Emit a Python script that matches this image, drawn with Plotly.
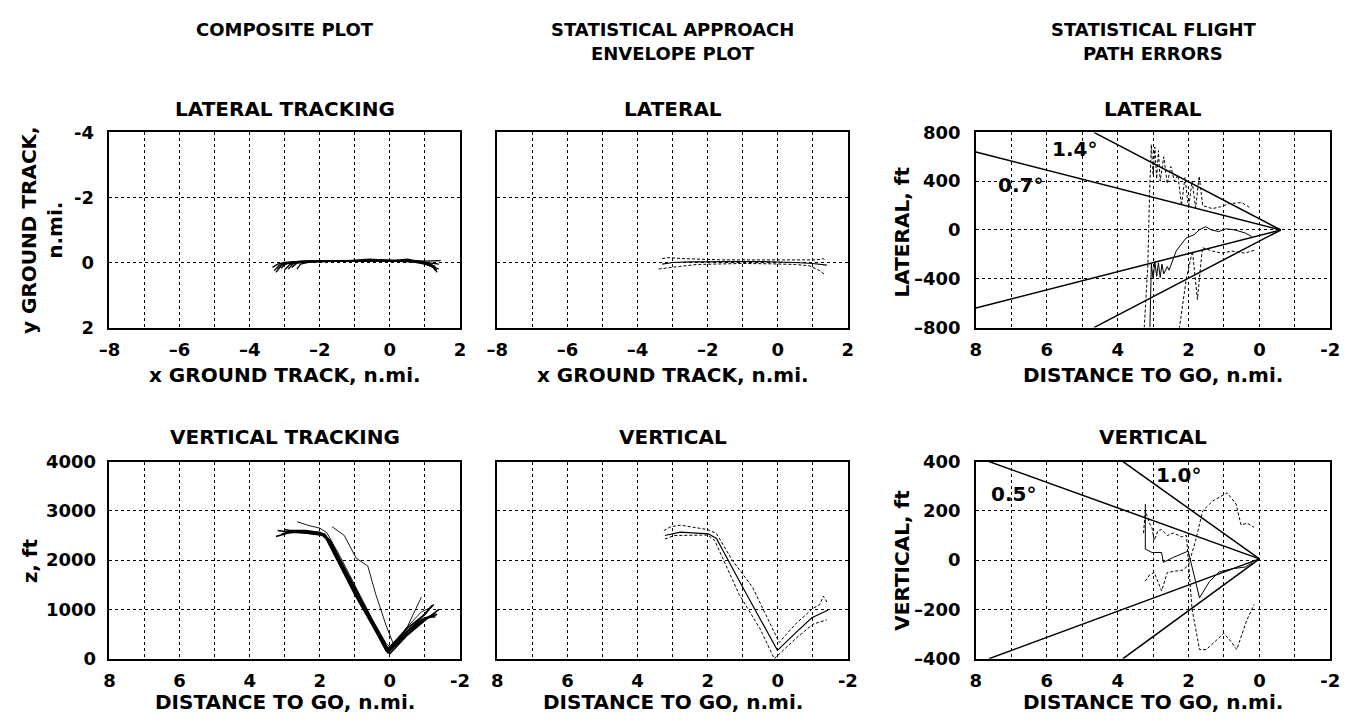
import plotly.graph_objects as go

W, H = 1361, 726

# ---------------- DATA ----------------
# Composite lateral tracking runs (x ground track n.mi., y ground track n.mi.)
lat_run1_x = [-3.35, -3.2, -3.0, -2.7, -2.2, -1.5, -0.8, 0.0, 0.6, 1.0, 1.3]
lat_run1_y = [0.15, 0.05, 0.0, -0.03, -0.04, -0.05, -0.05, -0.04, -0.03, 0.05, 0.15]
lat_run2_x = [-3.3, -3.15, -2.9, -2.5, -2.0, -1.2, -0.6, 0.3, 0.8, 1.1, 1.4]
lat_run2_y = [0.25, 0.08, 0.02, -0.02, -0.03, -0.05, -0.1, -0.05, -0.02, 0.08, 0.2]
lat_run3_x = [-3.2, -3.05, -2.8, -2.4, -1.8, -1.0, -0.2, 0.4, 0.9, 1.2, 1.35]
lat_run3_y = [0.2, 0.04, -0.02, -0.04, -0.04, -0.05, -0.04, -0.04, 0.0, 0.1, 0.3]
lat_run4_x = [-3.1, -2.95, -2.7, -2.3, -1.6, -0.9, 0.0, 0.5, 0.9, 1.2, 1.4]
lat_run4_y = [0.18, 0.02, -0.03, -0.05, -0.05, -0.06, -0.05, -0.1, -0.02, 0.03, 0.05]
lat_run5_x = [-3.0, -2.85, -2.6, -2.2, -1.5, -0.8, 0.1, 0.6, 1.0, 1.25, 1.45]
lat_run5_y = [0.22, 0.06, 0.0, -0.03, -0.04, -0.05, -0.05, -0.06, -0.04, -0.05, -0.06]
lat_run6_x = [-2.9, -2.75, -2.5, -2.1, -1.4, -0.7, 0.2, 0.7, 1.0, 1.3]
lat_run6_y = [0.2, 0.03, -0.02, -0.04, -0.05, -0.05, -0.04, -0.03, 0.02, 0.18]
lat_run7_x = [-2.8, -2.65, -2.4, -2.0, -1.3, -0.6, 0.2, 0.7, 1.1, 1.3]
lat_run7_y = [0.15, 0.02, -0.03, -0.04, -0.05, -0.05, -0.06, -0.04, 0.05, 0.12]
lat_run8_x = [-2.65, -2.55, -2.3, -1.9, -1.2, -0.5, 0.3, 0.8, 1.1, 1.35]
lat_run8_y = [0.2, 0.05, -0.01, -0.03, -0.04, -0.06, -0.05, -0.02, 0.07, 0.22]
lat_run9_x = [-3.25, -3.1, -2.9, -2.6, -2.0, -1.0, -0.3, 0.5, 0.95, 1.2, 1.3]
lat_run9_y = [0.3, 0.1, 0.03, -0.01, -0.04, -0.06, -0.08, -0.06, -0.03, 0.06, 0.25]

# Composite vertical tracking runs (distance to go n.mi., z ft)
vert_run1_x = [3.2, 3.0, 2.6, 2.2, 1.95, 1.8, 1.0, 0.1, -0.4, -0.9, -1.3]
vert_run1_z = [2600, 2580, 2560, 2540, 2520, 2420, 1350, 150, 450, 780, 920]
vert_run2_x = [3.1, 2.8, 2.4, 2.0, 1.85, 1.0, 0.05, -0.5, -1.0, -1.35]
vert_run2_z = [2520, 2600, 2570, 2550, 2480, 1300, 120, 500, 800, 900]
vert_run3_x = [3.0, 2.7, 2.3, 1.95, 1.75, 0.9, 0.0, -0.5, -1.0, -1.4]
vert_run3_z = [2620, 2580, 2550, 2530, 2430, 1200, 100, 480, 780, 1000]
vert_run4_x = [2.9, 2.5, 2.1, 1.9, 1.7, 0.8, 0.05, -0.5, -1.0, -1.2]
vert_run4_z = [2560, 2560, 2520, 2500, 2400, 1150, 200, 620, 900, 1080]
vert_run5_x = [2.8, 2.4, 2.0, 1.85, 1.6, 0.9, 0.1, -0.5, -1.0, -1.3]
vert_run5_z = [2600, 2600, 2560, 2520, 2250, 1300, 180, 560, 830, 850]
vert_run6_x = [2.65, 2.3, 2.0, 1.8, 1.4, 1.0, 0.5, 0.1, -0.05, -0.5, -0.9]
vert_run6_z = [2780, 2700, 2650, 2560, 2050, 1500, 800, 300, 220, 650, 1250]
vert_run7_x = [1.65, 1.3, 0.96, 0.63, 0.4, 0.11, -0.1, -0.5, -0.9, -1.2]
vert_run7_z = [2680, 2500, 2040, 1880, 1300, 680, 300, 650, 950, 1050]
vert_run8_x = [3.25, 2.9, 2.5, 2.0, 1.8, 1.2, 0.6, 0.05, -0.4, -0.8, -1.25]
vert_run8_z = [2480, 2550, 2590, 2560, 2460, 1700, 900, 130, 500, 760, 1100]

# Statistical approach envelope - lateral
env_lat_mean_x = [-3.3, -3.0, -2.5, -2.0, -1.5, -1.0, -0.5, 0.0, 0.5, 1.0, 1.4]
env_lat_mean_y = [0.05, 0.0, -0.02, -0.03, -0.03, -0.03, -0.03, -0.02, 0.0, 0.03, 0.08]
env_lat_up_x = [-3.3, -3.1, -2.7, -2.2, -1.6, -1.0, -0.4, 0.2, 0.8, 1.1, 1.3, 1.35]
env_lat_up_y = [-0.12, -0.15, -0.12, -0.1, -0.08, -0.08, -0.08, -0.08, -0.1, -0.08, -0.12, -0.05]
env_lat_lo_x = [-3.4, -3.2, -2.8, -2.3, -1.8, -1.0, -0.2, 0.5, 0.9, 1.2, 1.35]
env_lat_lo_y = [0.2, 0.18, 0.12, 0.06, 0.04, 0.03, 0.04, 0.06, 0.1, 0.25, 0.38]

# Statistical approach envelope - vertical
env_v_mean_x = [3.22, 2.78, 1.98, 1.75, 1.0, 0.01, -0.5, -0.97, -1.44]
env_v_mean_z = [2500, 2570, 2535, 2440, 1450, 170, 520, 830, 990]
env_v_up_x = [3.25, 3.05, 2.78, 2.0, 1.75, 1.3, 0.72, 0.2, -0.04, -0.5, -1.0, -1.2, -1.3, -1.4]
env_v_up_z = [2600, 2680, 2710, 2620, 2540, 2000, 1450, 700, 330, 700, 1020, 1100, 1270, 1150]
env_v_lo_x = [3.22, 2.95, 2.0, 1.8, 1.1, 0.5, 0.1, -0.5, -1.0, -1.4]
env_v_lo_z = [2430, 2500, 2510, 2400, 1300, 600, 0, 400, 700, 790]

# Statistical flight path errors - lateral (distance to go n.mi., ft)
cone_lat_07_x = [8.0, -0.6]
cone_lat_07_hi = [640, 0]
cone_lat_07_lo = [-640, 0]
cone_lat_14_x = [4.67, -0.6]
cone_lat_14_hi = [800, 0]
cone_lat_14_lo = [-800, 0]
err_lat_mean_x = [3.09, 3.05, 3.0, 2.95, 2.9, 2.85, 2.8, 2.75, 2.7, 2.6, 2.55, 2.35, 2.07, 1.85, 1.7, 1.52, 1.35, 1.15, 0.95, 0.69, 0.41, 0.22]
err_lat_mean_y = [-800, -280, -400, -260, -380, -270, -390, -280, -360, -300, -330, -173, -66, -40, 0, 27, 0, -13, 10, 0, -24, -53]
err_lat_up_x = [3.25, 3.15, 3.1, 3.05, 3.0, 2.95, 2.9, 2.85, 2.8, 2.7, 2.6, 2.5, 2.4, 2.3, 2.2, 2.1, 2.0, 1.9, 1.8, 1.7, 1.6, 1.33, 1.1, 0.87, 0.5, 0.28]
err_lat_up_y = [-800, -300, 300, 700, 450, 680, 420, 650, 400, 600, 380, 520, 400, 450, 200, 430, 180, 400, 180, 440, 200, 175, 190, 215, 225, 185]
err_lat_lo_x = [2.26, 2.07, 1.89, 1.75, 1.61, 1.33, 1.06, 0.78, 0.41, 0.14]
err_lat_lo_y = [-810, -411, -173, -570, -145, -173, -190, -173, -190, -165]

# Statistical flight path errors - vertical
cone_v_05_x = [7.63, 0.0]
cone_v_05_hi = [400, 5]
cone_v_05_lo = [-400, 5]
cone_v_10_x = [3.85, 0.0]
cone_v_10_hi = [400, 5]
cone_v_10_lo = [-400, 5]
err_v_mean_x = [3.22, 3.22, 3.03, 2.76, 2.71, 2.43, 2.01, 1.69, 1.41, 1.14, 0.77, 0.40, 0.2]
err_v_mean_y = [228, 45, 31, 31, -9, 11, 37, -153, -87, -48, -35, -28, -10]
err_v_dashA_x = [3.27, 3.22, 3.1, 3.03, 2.97, 2.86, 2.76, 2.6, 2.43, 2.2, 2.06, 1.9, 1.69, 1.5, 1.25, 1.01, 0.8, 0.64, 0.36, 0.15]
err_v_dashA_y = [110, 200, 150, 130, 80, 120, 124, 100, 110, 95, 100, -200, -363, -363, -330, -297, -330, -363, -245, -180]
err_v_dashB_x = [3.22, 3.1, 2.97, 2.86, 2.76, 2.6, 2.4, 2.15, 2.0, 1.8, 1.6, 1.32, 0.91, 0.66, 0.52, 0.34, 0.15]
err_v_dashB_y = [-85, -60, -50, -90, -125, -50, -45, -40, -20, 80, 200, 240, 273, 228, 143, 150, 133]

# Tick labels
x_lat_ticks = [-8, -7, -6, -5, -4, -3, -2, -1, 0, 1, 2]
x_lat_text = ["\u20138", "", "\u20136", "", "\u20134", "", "\u20132", "", "0", "", "2"]
x_dist_ticks = [8, 7, 6, 5, 4, 3, 2, 1, 0, -1, -2]
x_dist_text = ["8", "", "6", "", "4", "", "2", "", "0", "", "-2"]
y_lat_ticks = [-4, -2, 0, 2]
y_lat_text = ["-4", "-2", "0", "2"]
y_z_ticks = [0, 1000, 2000, 3000, 4000]
y_z_text = ["0", "1000", "2000", "3000", "4000"]
y_latft_ticks = [-800, -400, 0, 400, 800]
y_latft_text = ["\u2013800", "\u2013400", "0", "400", "800"]
y_vft_ticks = [-400, -200, 0, 200, 400]
y_vft_text = ["\u2013400", "\u2013200", "0", "200", "400"]

# ---------------- FIGURE ----------------
FONT = "DejaVu Sans"
fig = go.Figure()


def line(x, y, ax, dash="solid", width=1.1):
    fig.add_trace(go.Scatter(x=x, y=y, mode="lines", xaxis="x" + ax, yaxis="y" + ax,
                             line=dict(color="black", width=width, dash=dash),
                             showlegend=False, hoverinfo="skip"))


lat_runs = [(lat_run1_x, lat_run1_y), (lat_run2_x, lat_run2_y), (lat_run3_x, lat_run3_y),
            (lat_run4_x, lat_run4_y), (lat_run5_x, lat_run5_y), (lat_run6_x, lat_run6_y),
            (lat_run7_x, lat_run7_y), (lat_run8_x, lat_run8_y), (lat_run9_x, lat_run9_y)]
for x, y in lat_runs:
    line(x, y, "", width=1.3)

line(env_lat_mean_x, env_lat_mean_y, "2", width=1.2)
line(env_lat_up_x, env_lat_up_y, "2", dash="3px,2px", width=1)
line(env_lat_lo_x, env_lat_lo_y, "2", dash="3px,2px", width=1)

line(cone_lat_07_x, cone_lat_07_hi, "3", width=1.5)
line(cone_lat_07_x, cone_lat_07_lo, "3", width=1.5)
line(cone_lat_14_x, cone_lat_14_hi, "3", width=1.5)
line(cone_lat_14_x, cone_lat_14_lo, "3", width=1.5)
line(err_lat_mean_x, err_lat_mean_y, "3", width=1)
line(err_lat_up_x, err_lat_up_y, "3", dash="3px,2px", width=1)
line(err_lat_lo_x, err_lat_lo_y, "3", dash="3px,2px", width=1)

vert_runs = [(vert_run1_x, vert_run1_z), (vert_run2_x, vert_run2_z), (vert_run3_x, vert_run3_z),
             (vert_run4_x, vert_run4_z), (vert_run5_x, vert_run5_z), (vert_run6_x, vert_run6_z),
             (vert_run7_x, vert_run7_z), (vert_run8_x, vert_run8_z)]
for i, (x, y) in enumerate(vert_runs):
    line(x, y, "4", width=0.9 if i in (5, 6) else 1.6)

line(env_v_mean_x, env_v_mean_z, "5", width=1.2)
line(env_v_up_x, env_v_up_z, "5", dash="3px,2px", width=1)
line(env_v_lo_x, env_v_lo_z, "5", dash="3px,2px", width=1)

line(cone_v_05_x, cone_v_05_hi, "6", width=1.5)
line(cone_v_05_x, cone_v_05_lo, "6", width=1.5)
line(cone_v_10_x, cone_v_10_hi, "6", width=1.5)
line(cone_v_10_x, cone_v_10_lo, "6", width=1.5)
line(err_v_mean_x, err_v_mean_y, "6", width=1)
line(err_v_dashA_x, err_v_dashA_y, "6", dash="3px,2px", width=1)
line(err_v_dashB_x, err_v_dashB_y, "6", dash="3px,2px", width=1)

# ---------------- AXES ----------------
cols = [(100, 456), (494, 850), (980, 1340)]
rows = [(125, 326), (464, 667)]
tickfont = dict(family=FONT, size=18, color="black", weight="bold")


def xdom(c):
    return [cols[c][0] / W, cols[c][1] / W]


def ydom(r):
    return [1 - rows[r][1] / H, 1 - rows[r][0] / H]


def axis(domain, rng, tickvals, ticktext, anchor, showlabels=True, ticklen=5):
    return dict(domain=domain, range=rng, tickvals=tickvals, ticktext=ticktext,
                showticklabels=showlabels, tickfont=tickfont, ticks="outside", ticklen=ticklen,
                tickcolor="rgba(0,0,0,0)", showgrid=True, gridcolor="black", griddash="dot",
                gridwidth=1, zeroline=False, showline=True, linecolor="black", linewidth=1.5,
                mirror=True, anchor=anchor, fixedrange=True)


layout_axes = {
    "xaxis": axis(xdom(0), [-8, 2], x_lat_ticks, x_lat_text, "y"),
    "yaxis": axis(ydom(0), [2, -4], y_lat_ticks, y_lat_text, "x", ticklen=10),
    "xaxis2": axis(xdom(1), [-8, 2], x_lat_ticks, x_lat_text, "y2"),
    "yaxis2": axis(ydom(0), [2, -4], y_lat_ticks, y_lat_text, "x2", showlabels=False),
    "xaxis3": axis(xdom(2), [8, -2], x_dist_ticks, x_dist_text, "y3"),
    "yaxis3": axis(ydom(0), [-800, 800], y_latft_ticks, y_latft_text, "x3", ticklen=10),
    "xaxis4": axis(xdom(0), [8, -2], x_dist_ticks, x_dist_text, "y4"),
    "yaxis4": axis(ydom(1), [0, 4000], y_z_ticks, y_z_text, "x4", ticklen=8),
    "xaxis5": axis(xdom(1), [8, -2], x_dist_ticks, x_dist_text, "y5"),
    "yaxis5": axis(ydom(1), [0, 4000], y_z_ticks, y_z_text, "x5", showlabels=False),
    "xaxis6": axis(xdom(2), [8, -2], x_dist_ticks, x_dist_text, "y6"),
    "yaxis6": axis(ydom(1), [-400, 400], y_vft_ticks, y_vft_text, "x6", ticklen=10),
}

# ---------------- TEXT ----------------
annots = []


def txt(s, px, py, size=20, angle=0):
    annots.append(dict(text=s, x=px / W, y=1 - py / H, xref="paper", yref="paper",
                       showarrow=False, xanchor="center", yanchor="middle", textangle=angle,
                       font=dict(family=FONT, size=size, color="black", weight="bold")))


def dtxt(s, ax, x, y, size=20):
    annots.append(dict(text=s, x=x, y=y, xref="x" + ax, yref="y" + ax, showarrow=False,
                       xanchor="center", yanchor="middle",
                       font=dict(family=FONT, size=size, color="black", weight="bold")))


cx = [(a + b) / 2 for a, b in cols]
txt("COMPOSITE PLOT", cx[0], 19, 18)
txt("STATISTICAL APPROACH", cx[1], 19, 18)
txt("ENVELOPE PLOT", cx[1], 44, 18)
txt("STATISTICAL FLIGHT", cx[2], 19, 18)
txt("PATH ERRORS", cx[2], 44, 18)

txt("LATERAL TRACKING", cx[0], 101)
txt("LATERAL", cx[1], 101)
txt("LATERAL", cx[2], 101)
txt("VERTICAL TRACKING", cx[0], 439)
txt("VERTICAL", cx[1], 439)
txt("VERTICAL", cx[2], 439)

txt("x GROUND TRACK, n.mi.", cx[0], 375)
txt("x GROUND TRACK, n.mi.", cx[1], 375)
txt("DISTANCE TO GO, n.mi.", cx[2], 375)
txt("DISTANCE TO GO, n.mi.", cx[0], 712)
txt("DISTANCE TO GO, n.mi.", cx[1], 712)
txt("DISTANCE TO GO, n.mi.", cx[2], 712)

txt("y GROUND TRACK,<br>n.mi.", 32, 226, angle=-90)
txt("z, ft", 19, 566, angle=-90)
txt("LATERAL, ft", 905, 228, angle=-90)
txt("VERTICAL, ft", 905, 566, angle=-90)

dtxt("1.4°", "3", 5.22, 663)
dtxt("0.7°", "3", 6.75, 370)
dtxt("1.0°", "6", 2.29, 346)
dtxt("0.5°", "6", 6.93, 267)

fig.update_layout(width=W, height=H, margin=dict(l=0, r=0, t=0, b=0),
                  paper_bgcolor="white", plot_bgcolor="white", showlegend=False,
                  annotations=annots, **layout_axes)

fig.write_html("out.html", config={"displayModeBar": False})
